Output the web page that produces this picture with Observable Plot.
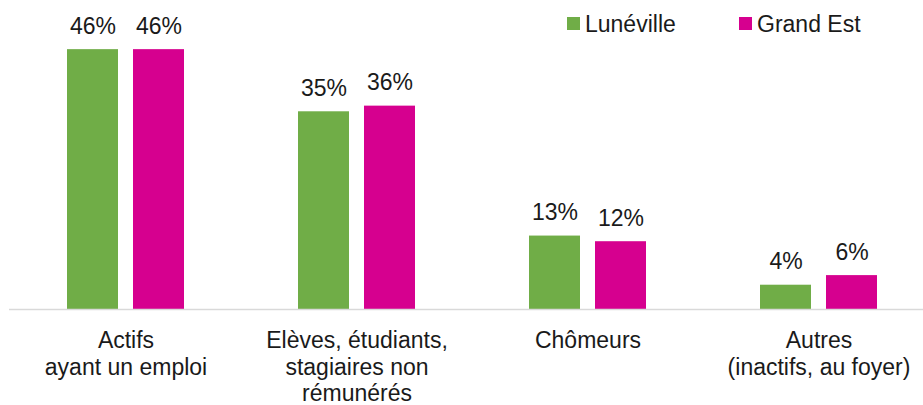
<!DOCTYPE html>
<html>
<head>
<meta charset="utf-8">
<script src="https://cdn.jsdelivr.net/npm/d3@7"></script>
<script src="https://cdn.jsdelivr.net/npm/@observablehq/plot@0.6"></script>
<style>
  html, body { margin: 0; padding: 0; background: #fff; }
  #wrap { position: relative; width: 923px; height: 405px; overflow: hidden; font-family: "Liberation Sans", Arial, sans-serif; }
  .leg { position: absolute; top: 0; font-size: 23px; color: #1a1a1a; line-height: 1; }
  .sw { position: absolute; width: 13px; height: 13px; top: 17px; }
  .lt { position: absolute; top: 13px; white-space: nowrap; }
</style>
</head>
<body>
<div id="wrap">
  <div id="chart"></div>
</div>
<script>
const categories = [
  "Actifs\nayant un emploi",
  "Elèves, étudiants,\nstagiaires non\nrémunérés",
  "Chômeurs",
  "Autres\n(inactifs, au foyer)"
];
const seriesNames = ["Lunéville", "Grand Est"];
const lunevilleValues = [46, 35, 13, 4.3];
const grandEstValues = [46, 36, 12, 6];
const lunevilleLabels = ["46%", "35%", "13%", "4%"];
const grandEstLabels = ["46%", "36%", "12%", "6%"];
const colors = ["#70AD47", "#D6008F"];

const lunData = categories.map((c, i) => ({category: c, value: lunevilleValues[i], label: lunevilleLabels[i]}));
const geData = categories.map((c, i) => ({category: c, value: grandEstValues[i], label: grandEstLabels[i]}));

const font = "Liberation Sans, Arial, sans-serif";

const chart = Plot.plot({
  width: 923,
  height: 405,
  marginTop: 0,
  marginBottom: 96,
  marginLeft: 9,
  marginRight: -12,
  style: {fontFamily: font, color: "#1a1a1a", background: "transparent", overflow: "visible"},
  x: {domain: categories, paddingInner: 0.4946, paddingOuter: 0.2473, label: null},
  y: {domain: [0, 54.7], axis: null},
  marks: [
    Plot.barY(lunData, {x: "category", y: "value", fill: colors[0], insetRight: 66, insetLeft: 0}),
    Plot.barY(geData, {x: "category", y: "value", fill: colors[1], insetLeft: 66, insetRight: 0}),
    Plot.ruleY([0], {stroke: "#D9D9D9", strokeWidth: 1.5}),
    Plot.text(lunData, {x: "category", y: "value", text: "label", dx: -33, dy: -16, lineAnchor: "bottom", fontSize: 23, fill: "#1a1a1a"}),
    Plot.text(geData, {x: "category", y: "value", text: "label", dx: 33, dy: -16, lineAnchor: "bottom", fontSize: 23, fill: "#1a1a1a"}),
    Plot.axisX({anchor: "bottom", tickSize: 0, tickPadding: 19, fontSize: 23, lineHeight: 1.17, label: null, fill: "#1a1a1a"})
  ]
});
document.getElementById("chart").appendChild(chart);

// Legend (overlaid in the top-right corner)
const wrap = document.getElementById("wrap");
const legendPos = [{sw: 567, tx: 585}, {sw: 739, tx: 757}];
seriesNames.forEach((name, i) => {
  const sw = document.createElement("div");
  sw.className = "sw";
  sw.style.left = legendPos[i].sw + "px";
  sw.style.background = colors[i];
  wrap.appendChild(sw);
  const t = document.createElement("div");
  t.className = "leg lt";
  t.style.left = legendPos[i].tx + "px";
  t.textContent = name;
  wrap.appendChild(t);
});
</script>
</body>
</html>
